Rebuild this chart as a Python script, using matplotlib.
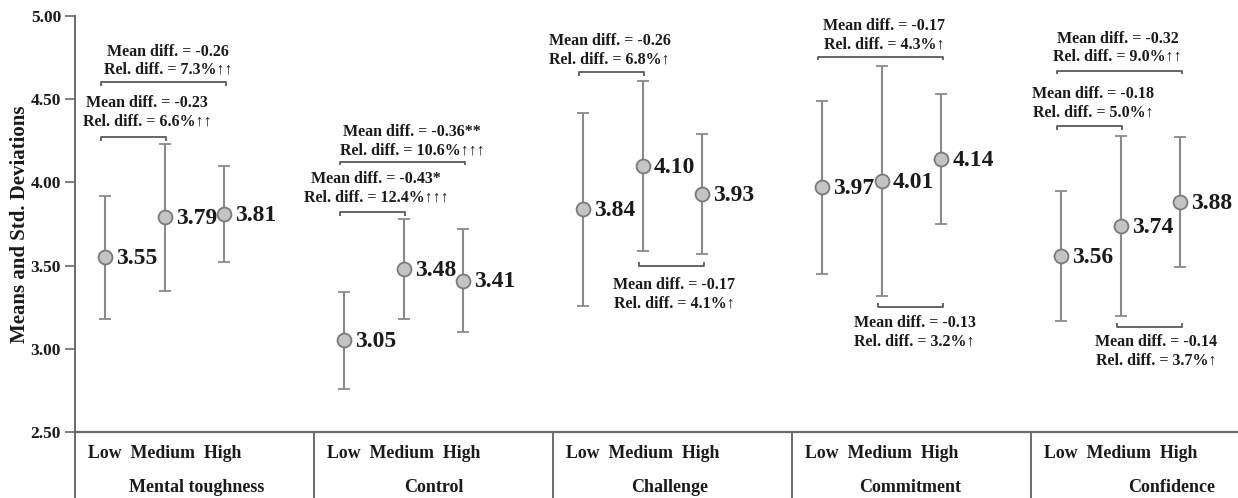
import matplotlib
matplotlib.use("Agg")
import matplotlib.pyplot as plt
from matplotlib.lines import Line2D

# ---------------- data ----------------
categories = ["Mental toughness", "Control", "Challenge", "Commitment", "Confidence"]
levels = ["Low", "Medium", "High"]
means_low = [3.55, 3.05, 3.84, 3.97, 3.56]
means_med = [3.79, 3.48, 4.10, 4.01, 3.74]
means_high = [3.81, 3.41, 3.93, 4.14, 3.88]
sd_low = [0.37, 0.29, 0.58, 0.52, 0.39]
sd_med = [0.44, 0.30, 0.51, 0.69, 0.54]
sd_high = [0.29, 0.31, 0.36, 0.39, 0.39]
yticks = [2.50, 3.00, 3.50, 4.00, 4.50, 5.00]

# comparisons: (category index, level a, level b, mean-diff text, rel-diff text)
comparisons = [
    (0, 0, 1, "Mean diff. = -0.23", "Rel. diff. = 6.6%\u2191\u2191"),
    (0, 0, 2, "Mean diff. = -0.26", "Rel. diff. = 7.3%\u2191\u2191"),
    (1, 0, 1, "Mean diff. = -0.43*", "Rel. diff. = 12.4%\u2191\u2191\u2191"),
    (1, 0, 2, "Mean diff. = -0.36**", "Rel. diff. = 10.6%\u2191\u2191\u2191"),
    (2, 0, 1, "Mean diff. = -0.26", "Rel. diff. = 6.8%\u2191"),
    (2, 1, 2, "Mean diff. = -0.17", "Rel. diff. = 4.1%\u2191"),
    (3, 0, 2, "Mean diff. = -0.17", "Rel. diff. = 4.3%\u2191"),
    (3, 1, 2, "Mean diff. = -0.13", "Rel. diff. = 3.2%\u2191"),
    (4, 0, 1, "Mean diff. = -0.18", "Rel. diff. = 5.0%\u2191"),
    (4, 0, 2, "Mean diff. = -0.32", "Rel. diff. = 9.0%\u2191\u2191"),
    (4, 1, 2, "Mean diff. = -0.14", "Rel. diff. = 3.7%\u2191"),
]

# ---------------- layout (positions/styles) ----------------
cat_width = 4.0
level_offsets = [0.5, 1.5, 2.5]
# bracket y, above(+1)/below(-1), text x offset in category, text center y
comp_layout = [
    (4.273, 1, 1.205, 4.42),
    (4.603, 1, 1.556, 4.73),
    (3.820, 1, 1.04, 3.965),
    (4.124, 1, 1.64, 4.247),
    (4.662, 1, 0.946, 4.796),
    (3.498, -1, 2.03, 3.329),
    (4.756, 1, 1.54, 4.885),
    (3.253, -1, 2.05, 3.101),
    (4.339, 1, 1.04, 4.475),
    (4.671, 1, 1.45, 4.809),
    (3.133, -1, 2.09, 2.985),
]
name_offsets = [2.03, 2.0, 1.96, 1.97, 2.36]

W, H = 1238, 498
fig = plt.figure(figsize=(W / 100, H / 100), dpi=100)
ax_left, ax_bottom, ax_top = 75 / W, 1 - 432 / H, 1 - 16 / H
ax = fig.add_axes([ax_left, ax_bottom, 1 - ax_left, ax_top - ax_bottom])

FONT = ["Liberation Serif", "DejaVu Serif"]
TXT = "#1a1a1a"
AXC = "#6a6a6a"

ax.set_ylim(2.5, 5.0)
xmax = (W - 75) / 59.75
ax.set_xlim(0, xmax)

all_means = [means_low, means_med, means_high]
all_sds = [sd_low, sd_med, sd_high]

for li in range(3):
    xs = [ci * cat_width + level_offsets[li] for ci in range(len(categories))]
    line, caps, bars = ax.errorbar(xs, all_means[li], yerr=all_sds[li], fmt="o",
                                   color="#8a8a8a", ecolor="#8a8a8a", elinewidth=1.5,
                                   capsize=4.5, capthick=2.2, markersize=10,
                                   markerfacecolor="#c4c4c4", markeredgecolor="#7a7a7a",
                                   markeredgewidth=1.3, zorder=3)
    for c in caps:
        c.set_color("#2a2a2a")
    for x, m in zip(xs, all_means[li]):
        ax.annotate(f"{m:.2f}", (x, m), xytext=(8, -1), textcoords="offset points",
                    ha="left", va="center", fontsize=17, fontweight="bold",
                    family=FONT, color=TXT, zorder=4)

# brackets and annotations
tick_h = 0.022
for (ci, a, b, t1, t2), (by, side, tx, ty) in zip(comparisons, comp_layout):
    x0 = ci * cat_width + level_offsets[a] - 0.06
    x1 = ci * cat_width + level_offsets[b] + 0.02
    d = -tick_h if side > 0 else tick_h
    ax.plot([x0, x0, x1, x1], [by + d, by, by, by + d], color="#5a5a5a", lw=1.3,
            solid_capstyle="butt", zorder=2)
    ax.text(ci * cat_width + tx, ty, t1 + "\n" + t2, ha="center", va="center",
            fontsize=11.5, fontweight="bold", family=FONT, color=TXT,
            linespacing=1.18, zorder=4)

# axes styling
for s in ["top", "right"]:
    ax.spines[s].set_visible(False)
ax.spines["left"].set_color(AXC)
ax.spines["left"].set_linewidth(1.4)
ax.spines["bottom"].set_color(AXC)
ax.spines["bottom"].set_linewidth(1.6)
ax.set_yticks(yticks)
ax.set_yticklabels([f"{v:.2f}" for v in yticks], fontsize=12.5, fontweight="bold",
                   family=FONT, color=TXT)
ax.tick_params(axis="y", direction="out", length=7, width=1.2, color=AXC, pad=3)
ax.set_xticks([])

# extend left spine and category separators below axis
ext = -(H - 432) / 416
ax.add_line(Line2D([0, 0], [0, ext], transform=ax.transAxes, color=AXC, lw=1.4,
                   clip_on=False))
for ci in range(1, len(categories)):
    xd = ci * cat_width
    ax.plot([xd, xd], [0, ext], transform=ax.get_xaxis_transform(), color=AXC,
            lw=1.4, clip_on=False)

level_text = "  ".join(levels)
for ci, name in enumerate(categories):
    ax.text(ci * cat_width + 1.5, -21 / 416, level_text, transform=ax.get_xaxis_transform(),
            ha="center", va="center", fontsize=12.8, fontweight="bold", family=FONT,
            color=TXT, clip_on=False)
    ax.text(ci * cat_width + name_offsets[ci], -55 / 416, name,
            transform=ax.get_xaxis_transform(), ha="center", va="center",
            fontsize=13, fontweight="bold", family=FONT, color=TXT, clip_on=False)

fig.text(20 / W, 1 - 224 / H, "Means and Std. Deviations", rotation=90, ha="center",
         va="center", fontsize=15, fontweight="bold", family=FONT, color=TXT)

fig.savefig("out.png", dpi=100)
